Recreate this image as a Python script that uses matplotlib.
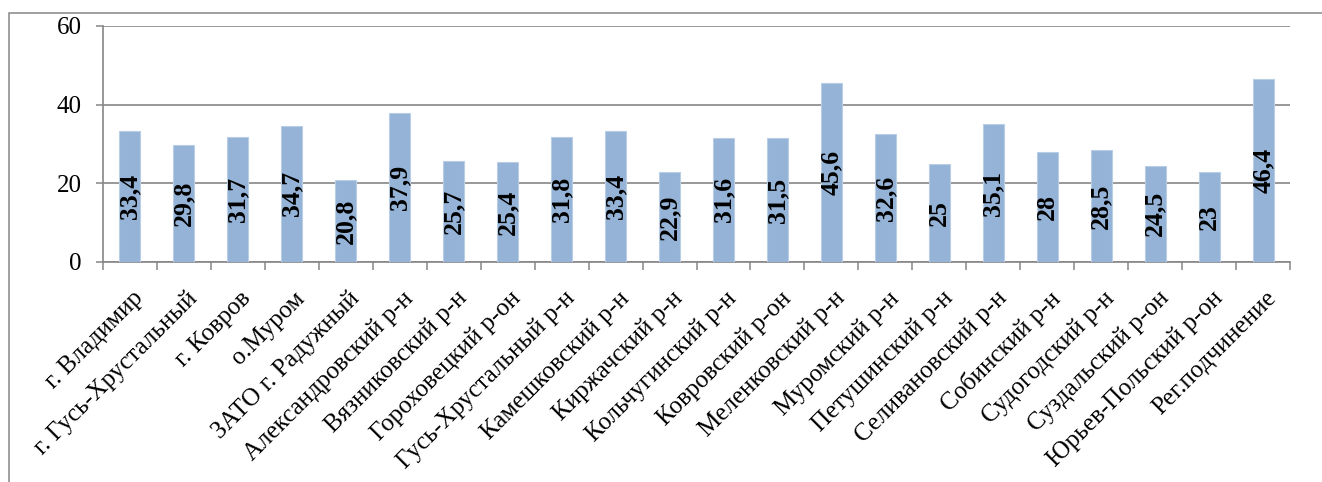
import matplotlib
matplotlib.use("Agg")
import matplotlib.pyplot as plt
from matplotlib.patches import Rectangle
from matplotlib.transforms import ScaledTranslation

plt.rcParams['font.family'] = ['Liberation Serif', 'DejaVu Serif']

# ------------ Data ---------------
districts = [
    "г. Владимир", "г. Гусь-Хрустальный", "г. Ковров", "о.Муром",
    "ЗАТО г. Радужный", "Александровский р-н", "Вязниковский р-н",
    "Гороховецкий р-он", "Гусь-Хрустальный р-н", "Камешковский р-н",
    "Киржачский р-н", "Кольчугинский р-н", "Ковровский р-он",
    "Меленковский р-н", "Муромский р-н", "Петушинский р-н",
    "Селивановский р-н", "Собинский р-н", "Судогодский р-н",
    "Суздальский р-он", "Юрьев-Польский р-он", "Рег.подчинение",
]
values = [33.4, 29.8, 31.7, 34.7, 20.8, 37.9, 25.7, 25.4, 31.8, 33.4, 22.9,
          31.6, 31.5, 45.6, 32.6, 25, 35.1, 28, 28.5, 24.5, 23, 46.4]
y_ticks = [0, 20, 40, 60]

# ------------ Plot ---------------
W, H = 1322, 482
fig = plt.figure(figsize=(W / 100, H / 100), dpi=100)
ax = fig.add_axes([103 / W, 1 - 262 / H, (1290 - 103) / W, (262 - 26) / H])

grey = "#868686"
x = list(range(len(values)))
ax.bar(x, values, width=0.39, color="#95B3D7", edgecolor="#B9CDE5",
       linewidth=0.8, zorder=3)

for i, v in enumerate(values):
    ax.text(i, v / 2, f"{v:g}".replace(".", ","), rotation=90,
            ha="center", va="center", fontsize=18.5, fontweight="bold",
            color="black", zorder=4)

ax.set_xlim(-0.5, len(values) - 0.5)
ax.set_ylim(0, 60)
ax.set_yticks(y_ticks)
ax.set_yticklabels([str(t) for t in y_ticks], fontsize=18)
ax.yaxis.grid(True, color=grey, linewidth=1.2, zorder=0)
ax.set_axisbelow(True)

ax.set_xticks(x)
ax.set_xticklabels(districts, rotation=45, ha="right",
                   rotation_mode="anchor", fontsize=18)
ax.set_xticks([i - 0.5 for i in range(len(values) + 1)], minor=True)
ax.tick_params(axis="x", which="major", length=0, pad=18)
ax.tick_params(axis="x", which="minor", length=5.5, width=1.1, color=grey)
ax.tick_params(axis="y", length=5, width=1.1, color=grey, pad=10.5)

# nudge the slanted labels a little to the right, like Excel does
shift = ScaledTranslation(2 / 100, 0, fig.dpi_scale_trans)
for lbl in ax.get_xticklabels():
    lbl.set_transform(lbl.get_transform() + shift)

for side in ["top", "right"]:
    ax.spines[side].set_visible(False)
for side in ["left", "bottom"]:
    ax.spines[side].set_color(grey)
    ax.spines[side].set_linewidth(1.2)

# chart area border (runs off the right and bottom edges)
fig.patches.append(Rectangle((9 / W, -0.05), 1.1, 1 - 13 / H + 0.05,
                             transform=fig.transFigure, fill=False,
                             edgecolor=grey, linewidth=1.1))

fig.savefig("out.png", dpi=100)
